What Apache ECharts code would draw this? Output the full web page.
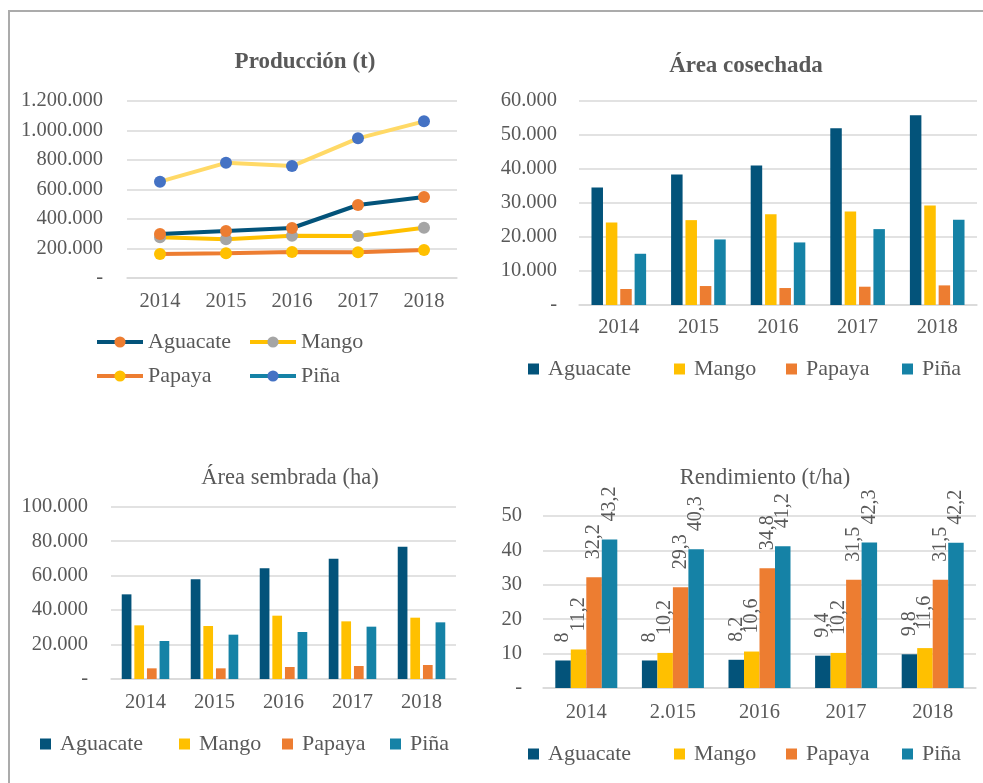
<!DOCTYPE html>
<html>
<head>
<meta charset="utf-8">
<script src="https://cdn.jsdelivr.net/npm/echarts@6/dist/echarts.min.js"></script>
<style>
  html, body { margin: 0; padding: 0; background: #fff; overflow: hidden; }
  body { width: 983px; height: 783px; position: relative; }
  .hline { position: absolute; left: 8px; top: 10px; width: 975px; height: 2px; background: #ababab; }
  .vline { position: absolute; left: 8px; top: 10px; width: 2px; height: 773px; background: #ababab; }
  .panel { position: absolute; }
</style>
</head>
<body>
<div class="hline"></div>
<div class="vline"></div>
<div id="prod" class="panel" style="left:0;top:0;width:490px;height:420px"></div>
<div id="cosechada" class="panel" style="left:490px;top:0;width:493px;height:420px"></div>
<div id="sembrada" class="panel" style="left:0;top:420px;width:490px;height:363px"></div>
<div id="rend" class="panel" style="left:490px;top:420px;width:493px;height:363px"></div>
<script>
const years = ['2014', '2015', '2016', '2017', '2018']
const rendYears = ['2014', '2.015', '2016', '2017', '2018']
const crops = ['Aguacate', 'Mango', 'Papaya', 'Piña']

// Producción (t)
const prodAguacate = [298000, 318000, 339000, 495000, 549000]
const prodMango = [276000, 262000, 287000, 285000, 341000]
const prodPapaya = [163000, 167000, 176000, 174000, 190000]
const prodPina = [653000, 781000, 759000, 947000, 1062000]

// Área cosechada
const cosAguacate = [34550, 38370, 41010, 51970, 55790]
const cosMango = [24270, 24960, 26720, 27500, 29270]
const cosPapaya = [4700, 5580, 4990, 5380, 5770]
const cosPina = [15070, 19280, 18400, 22320, 25060]

// Área sembrada (ha)
const semAguacate = [49130, 57830, 64220, 69830, 76790]
const semMango = [31140, 30750, 36750, 33460, 35590]
const semPapaya = [6190, 6190, 6960, 7540, 8120]
const semPina = [22050, 25730, 27270, 30370, 32880]

// Rendimiento (t/ha)
const rendAguacate = [8, 8, 8.2, 9.4, 9.8]
const rendMango = [11.2, 10.2, 10.6, 10.2, 11.6]
const rendPapaya = [32.2, 29.3, 34.8, 31.5, 31.5]
const rendPina = [43.2, 40.3, 41.2, 42.3, 42.2]

const FONT = '"Liberation Serif", "DejaVu Serif", serif'
const TEXT = '#595959'
const GRIDLINE = '#d9d9d9'
const colors = { Aguacate: '#03537a', Mango: '#ffc000', Papaya: '#ed7d31', 'Piña': '#1582a6' }

function thousands(v) {
  if (v === 0) return '-'
  return String(v).replace(/\B(?=(\d{3})+(?!\d))/g, '.')
}

function title(text, cx, top, bold) {
  return {
    text, left: cx, top, textAlign: 'center',
    textStyle: { fontFamily: FONT, fontSize: bold ? 23 : 22.5, fontWeight: bold ? 'bold' : 'normal', color: TEXT }
  }
}

function axes(cats, max, interval, yMargin, xMargin) {
  return {
    xAxis: {
      type: 'category', data: cats, boundaryGap: true,
      axisLine: { lineStyle: { color: GRIDLINE, width: 1.5 } },
      axisTick: { show: false },
      axisLabel: { fontFamily: FONT, fontSize: 20.5, color: TEXT, margin: xMargin }
    },
    yAxis: {
      type: 'value', min: 0, max, interval,
      axisLine: { show: false }, axisTick: { show: false },
      splitLine: { lineStyle: { color: GRIDLINE, width: 1.5 } },
      axisLabel: { fontFamily: FONT, fontSize: 20.5, color: TEXT, margin: yMargin, formatter: thousands }
    }
  }
}

function squareLegends(lefts, top) {
  return crops.map((name, i) => ({
    data: [{ name, itemStyle: { color: colors[name] } }],
    left: lefts[i], top, padding: 0, icon: 'rect', itemWidth: 11, itemHeight: 11,
    selectedMode: false,
    textStyle: { fontFamily: FONT, fontSize: 22, color: TEXT, padding: [0, 0, 0, 4] }
  }))
}

function barSeries(lists, barWidth, barGap) {
  return crops.map((name, i) => ({
    name, type: 'bar', data: lists[i], barWidth, barGap,
    itemStyle: { color: colors[name] }
  }))
}

// ---- Producción (t)
const lineMarks = {
  Aguacate: { line: '#03537a', mark: '#ed7d31' },
  Mango: { line: '#ffc000', mark: '#a5a5a5' },
  Papaya: { line: '#ed7d31', mark: '#ffc000' },
  'Piña': { line: '#ffd966', mark: '#4472c4', legendLine: '#1582a6' }
}
const prodLists = [prodAguacate, prodMango, prodPapaya, prodPina]
const prodLegendPos = [[95, 331], [248, 331], [95, 365], [248, 365]]

const prodChart = echarts.init(document.getElementById('prod'))
prodChart.setOption({
  title: title('Producción (t)', 300, 46, true),
  grid: { left: 127, right: 33, top: 101, height: 177 },
  ...axes(years, 1200000, 200000, 24, 13),
  legend: crops.map((name, i) => ({
    data: [{
      name,
      itemStyle: { color: lineMarks[name].mark },
      lineStyle: { color: lineMarks[name].legendLine || lineMarks[name].line, width: 4 }
    }],
    left: prodLegendPos[i][0], top: prodLegendPos[i][1], padding: 0,
    itemWidth: 46, itemHeight: 14, selectedMode: false,
    textStyle: { fontFamily: FONT, fontSize: 22, color: TEXT }
  })),
  series: crops.map((name, i) => ({
    name, type: 'line', data: prodLists[i],
    symbol: 'circle', symbolSize: 12,
    lineStyle: { color: lineMarks[name].line, width: 4 },
    itemStyle: { color: lineMarks[name].mark }
  })).reverse()
})

// ---- Área cosechada
const cosChart = echarts.init(document.getElementById('cosechada'))
cosChart.setOption({
  title: title('Área cosechada', 251, 50, true),
  grid: { left: 89, right: 6, top: 101, height: 204 },
  ...axes(years, 60000, 10000, 22, 12),
  legend: squareLegends([38, 184, 296, 412], 358),
  series: barSeries([cosAguacate, cosMango, cosPapaya, cosPina], 11.5, '25%')
})

// ---- Área sembrada (ha)
const semChart = echarts.init(document.getElementById('sembrada'))
semChart.setOption({
  title: title('Área sembrada (ha)', 285, 42, false),
  grid: { left: 111, right: 34, top: 86.7, height: 172.3 },
  ...axes(years, 100000, 20000, 23, 13),
  legend: squareLegends([40, 179, 282, 390], 313),
  series: barSeries([semAguacate, semMango, semPapaya, semPina], 9.7, '30%')
})

// ---- Rendimiento (t/ha)
const rendChart = echarts.init(document.getElementById('rend'))
const rendSeries = barSeries([rendAguacate, rendMango, rendPapaya, rendPina], 15.5, '0%')
rendSeries.forEach(s => {
  s.label = {
    show: true, position: 'top', rotate: 90, align: 'left', verticalAlign: 'middle',
    distance: 18, fontFamily: FONT, fontSize: 20, color: TEXT,
    formatter: p => String(p.value).replace('.', ',')
  }
})
rendChart.setOption({
  title: title('Rendimiento (t/ha)', 270, 42, false),
  grid: { left: 53, right: 7, top: 96, height: 172 },
  ...axes(rendYears, 50, 10, 21, 14),
  legend: squareLegends([38, 184, 296, 412], 323),
  series: rendSeries
})
</script>
</body>
</html>
